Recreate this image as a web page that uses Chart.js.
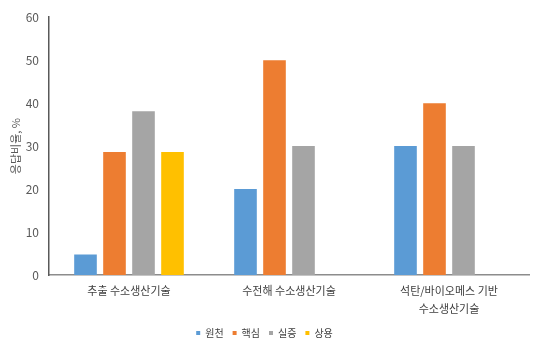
<!DOCTYPE html>
<html>
<head>
<meta charset="utf-8">
<script src="https://cdn.jsdelivr.net/npm/chart.js@4.4.1/dist/chart.umd.min.js"></script>
<style>
  html, body { margin: 0; padding: 0; background: #fff; }
  #wrap { width: 540px; height: 353px; }
</style>
</head>
<body>
<div id="wrap"><canvas id="myChart" width="540" height="353"></canvas></div>
<script>
// categories and series
const categories = ['추출 수소생산기술', '수전해 수소생산기술', ['석탄/바이오메스 기반', '수소생산기술']];
const seriesNames = ['원천', '핵심', '실증', '상용'];
const wonchun = [4.8, 20, 30];
const haeksim = [28.6, 50, 40];
const siljeung = [38.1, 30, 30];
const sangyong = [28.6, null, null];
const yTicks = [0, 10, 20, 30, 40, 50, 60];

let barColors = ['#5B9BD5', '#ED7D31', '#A5A5A5', '#FFC000'];
let font = '"Malgun Gothic", "Noto Sans CJK KR", sans-serif';

let values = [wonchun, haeksim, siljeung, sangyong];
let datasets = [];
for (let i = 0; i < seriesNames.length; i++) {
    datasets.push({
        label: seriesNames[i],
        data: values[i],
        backgroundColor: barColors[i],
        borderWidth: 0,
        categoryPercentage: 0.725,
        barPercentage: 0.78
    });
}

new Chart('myChart', {
    type: 'bar',
    data: { labels: categories, datasets: datasets },
    options: {
        responsive: false,
        animation: false,
        layout: { padding: { top: 11, right: 11, bottom: 5, left: 0 } },
        plugins: {
            tooltip: { enabled: false },
            legend: {
                position: 'bottom',
                labels: {
                    boxWidth: 4,
                    boxHeight: 4,
                    padding: 9,
                    color: '#404040',
                    font: { family: font, size: 10 }
                }
            }
        },
        scales: {
            x: {
                afterFit: s => { s.height = 44; },
                grid: { display: false, drawTicks: false },
                border: { color: '#8c8c8c', width: 1.5 },
                ticks: {
                    color: '#404040',
                    padding: 7,
                    maxRotation: 0,
                    font: { family: font, size: 11, lineHeight: 1.64 }
                }
            },
            y: {
                min: 0,
                max: 60,
                afterBuildTicks: s => { s.ticks = yTicks.map(v => ({ value: v })); },
                afterFit: s => { s.width = 49; },
                grid: { display: false, drawTicks: false },
                border: { color: '#595959', width: 1.5 },
                ticks: {
                    color: '#595959',
                    padding: 10,
                    font: { family: font, size: 12 }
                },
                title: {
                    display: true,
                    text: '응답비율, %',
                    color: '#595959',
                    padding: { top: 9, bottom: 0 },
                    font: { family: font, size: 11 }
                }
            }
        }
    }
});
</script>
</body>
</html>
